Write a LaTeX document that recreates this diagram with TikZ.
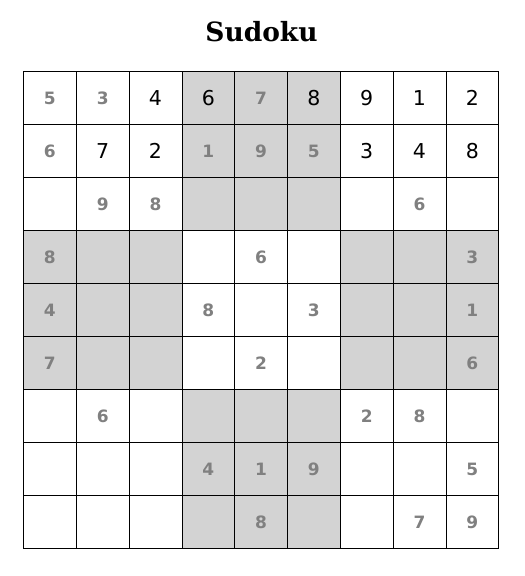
\documentclass[tikz,border=0pt]{standalone}
\usepackage{fontspec}
\setmainfont{DejaVu Sans}
\newfontfamily\titlefont{DejaVu Serif}
\definecolor{boxgray}{RGB}{211,211,211}
\definecolor{givengray}{RGB}{128,128,128}
\tikzset{
  cell/.style={draw=black, line width=0.8pt, minimum width=52.8pt, minimum height=53pt, inner sep=0pt},
  given/.style={text=givengray, font=\bfseries\fontsize{17}{19}\selectfont},
  solved/.style={text=black, font=\fontsize{20.5}{22}\selectfont},
  heading/.style={font=\titlefont\bfseries\fontsize{26.5}{30}\selectfont, anchor=base}
}

\begin{document}
\begin{tikzpicture}

  \newcommand\CW{52.8pt};
  \newcommand\CH{53pt};

  \useasboundingbox (0,0) rectangle (525pt,-576pt);

  \node[heading] (title) at (261.5pt,-41pt) {Sudoku};

  %% cells, shaded in a checkerboard of 3x3 boxes
  \foreach \r in {0,...,8}{
    \foreach \c in {0,...,8}{
      \pgfmathtruncatemacro\blk{mod(floor(\r/3)+floor(\c/3),2)}
      \ifnum\blk=1 \def\cellfill{boxgray}\else \def\cellfill{white}\fi
      \node[cell, fill=\cellfill] (c\r\c) at (23.5pt+\CW/2+\c*\CW, -71.5pt-\CH/2-\r*\CH) {};
    }
  }

  %% given digits
  \foreach \r/\c/\d in {0/0/5, 0/1/3, 0/4/7,
                        1/0/6, 1/3/1, 1/4/9, 1/5/5,
                        2/1/9, 2/2/8, 2/7/6,
                        3/0/8, 3/4/6, 3/8/3,
                        4/0/4, 4/3/8, 4/5/3, 4/8/1,
                        5/0/7, 5/4/2, 5/8/6,
                        6/1/6, 6/6/2, 6/7/8,
                        7/3/4, 7/4/1, 7/5/9, 7/8/5,
                        8/4/8, 8/7/7, 8/8/9}
    \node[given] (d\r\c) at (c\r\c) {\d};

  %% filled-in digits
  \foreach \r/\c/\d in {0/2/4, 0/3/6, 0/5/8, 0/6/9, 0/7/1, 0/8/2,
                        1/1/7, 1/2/2, 1/6/3, 1/7/4, 1/8/8}
    \node[solved] (d\r\c) at (c\r\c) {\d};

\end{tikzpicture}
\end{document}
